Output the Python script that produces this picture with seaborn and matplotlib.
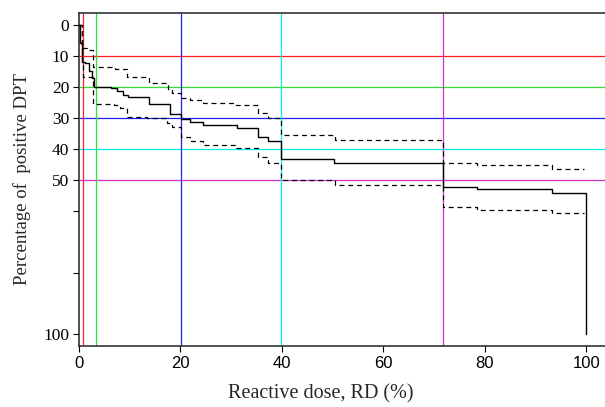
import pandas as pd
import matplotlib.pyplot as plt
import seaborn as sns

# step breakpoints (steps-post): reactive dose (%) and percentage of positive DPT
mid_x = [0, 0.2, 0.5, 1.2, 2.0, 2.5, 3.0, 6.4, 7.4, 8.7, 9.7, 13.7, 17.9, 20.2,
         21.9, 24.5, 31.1, 35.2, 37.3, 39.8, 50.3, 71.8, 78.4, 93.2, 100]
mid_y = [0, 6, 12, 12.5, 15, 17.3, 20.2, 20.5, 21.3, 22.7, 23.5, 25.7, 28.9, 30.4,
         31.3, 32.4, 33.4, 36.1, 37.5, 43.3, 44.7, 52.5, 53.1, 54.2, 100]

up_x = [0, 0.5, 1.6, 2.8, 7.1, 9.4, 13.7, 17.6, 18.3, 20.2, 21.9, 24.5, 30.8,
        35.2, 37.3, 39.8, 50.5, 71.8, 78.4, 93.2, 99.6]
up_y = [0, 7.6, 8.2, 13.5, 14.3, 17.0, 18.9, 20.8, 22.1, 23.7, 24.3, 25.2, 25.9,
        28.6, 30.0, 35.6, 37.2, 44.5, 45.3, 46.5, 46.5]

lo_x = [0, 0.5, 0.85, 2.8, 6.8, 8.1, 9.4, 13.5, 17.3, 18.3, 20.2, 21.9, 24.5,
        30.8, 35.2, 37.3, 39.8, 50.5, 71.8, 78.4, 93.2, 99.6]
lo_y = [0, 13, 17, 25.6, 25.9, 27.0, 29.7, 30.2, 31.8, 33.0, 36.3, 37.5, 38.8,
        39.9, 42.8, 44.5, 50.1, 51.7, 58.9, 59.8, 60.8, 60.8]

# reference lines
h_levels = [10, 20, 30, 40, 50]
v_levels = [0.7, 3.3, 20.2, 39.8, 71.8]
line_colors = ['#ff2020', '#33dd33', '#2020ee', '#00f0f0', '#d030d0']

y_ticks = [0, 10, 20, 30, 40, 50, 60, 80, 100]
y_labels = ['0', '10', '20', '30', '40', '50', '', '', '100']
x_ticks = [0, 20, 40, 60, 80, 100]

sns.set_style("white")
fig = plt.figure(figsize=(6.05, 4.07), dpi=100)
ax = fig.add_axes([0.1306, 0.150, 0.8694, 0.819])

for lv, c in zip(h_levels, line_colors):
    ax.axhline(lv, color=c, lw=0.9, zorder=1)
for lv, c in zip(v_levels, line_colors):
    ax.axvline(lv, color=c, lw=0.9, zorder=1)

mid = pd.DataFrame({'dose': mid_x, 'pct': mid_y})
up = pd.DataFrame({'dose': up_x, 'pct': up_y})
lo = pd.DataFrame({'dose': lo_x, 'pct': lo_y})

sns.lineplot(data=mid, x='dose', y='pct', ax=ax, color='black', lw=1.0,
             drawstyle='steps-post', estimator=None, zorder=3)
for d in (up, lo):
    sns.lineplot(data=d, x='dose', y='pct', ax=ax, color='black', lw=0.9,
                 drawstyle='steps-post', estimator=None, linestyle=(0, (4, 3)), zorder=3)

ax.set_xlim(0, 103.7)
ax.set_ylim(103.7, -3.9)

ax.set_xticks(x_ticks)
ax.set_xticklabels([str(t) for t in x_ticks], family='Liberation Sans', fontsize=12)
ax.set_yticks(y_ticks)
ax.set_yticklabels(y_labels, family='Liberation Serif', fontsize=12.5)
ax.tick_params(axis='both', direction='out', length=4, width=0.8, colors='black',
               left=True, bottom=True, pad=3)

for s in ('left', 'bottom', 'top'):
    ax.spines[s].set_color('#333333')
    ax.spines[s].set_linewidth(1.2)
ax.spines['right'].set_visible(False)

ax.set_xlabel('Reactive dose, RD (%)', family='Liberation Serif', fontsize=14.5)
ax.xaxis.set_label_coords(0.46, -0.115)
ax.set_ylabel('Percentage of  positive DPT', family='Liberation Serif', fontsize=13.5, labelpad=9)

fig.savefig('out.png', dpi=100)
